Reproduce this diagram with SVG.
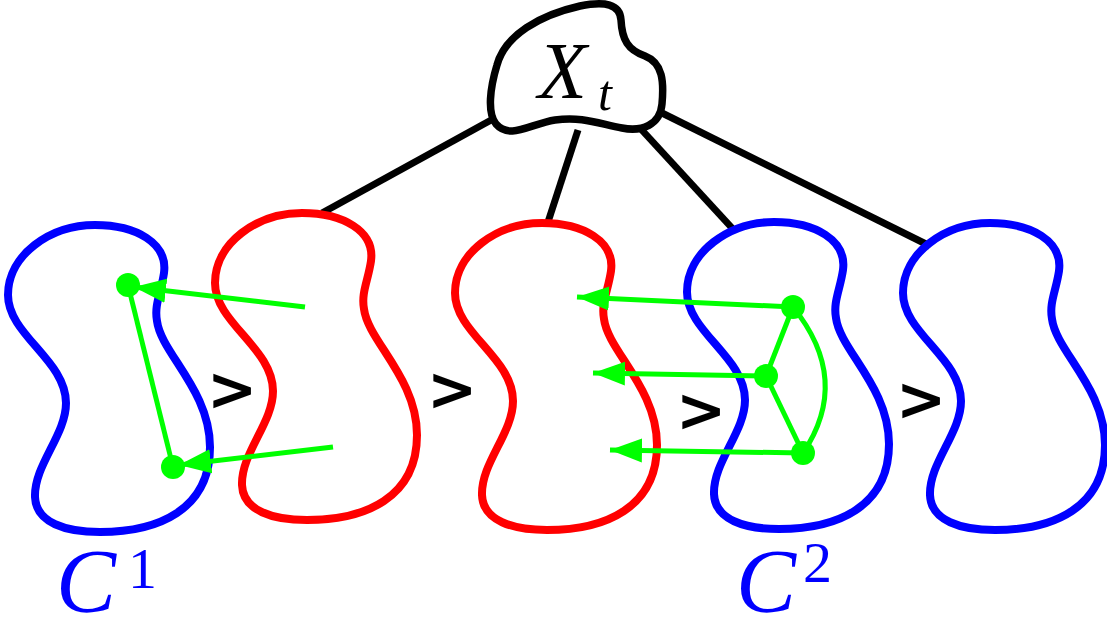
<svg xmlns="http://www.w3.org/2000/svg" xmlns:xlink="http://www.w3.org/1999/xlink" width="1107" height="632" viewBox="0 0 1107 632">
<style>
.blob{fill:none;stroke-width:8;stroke-linejoin:round}
.red{stroke:#ff0000}
.blue{stroke:#0000ff}
.conn{stroke:#000;stroke-width:7;fill:none}
.g{stroke:#00ff00;stroke-width:5;fill:none}
.dot{fill:#00ff00}
.gt{font-family:"DejaVu Sans",sans-serif;font-weight:bold;font-size:60px;fill:#000}
.math{font-family:"Liberation Serif","Times New Roman",serif;font-style:italic}
.lab{fill:#0000ff}
</style>
<defs>
<path id="blob" d="M 87,0 C 128,0 160,18 156,48 C 153,68 146,80 149,96 C 153,128 202,165 202,222 C 202,285 150,307 92,307 C 58,307 28,298 27,272 C 26,240 58,210 58,178 C 58,135 0,110 0,70 C 0,30 42,0 87,0 Z"/>
<marker id="ah" markerUnits="userSpaceOnUse" markerWidth="34" markerHeight="28" viewBox="0 0 34 28" refX="32" refY="14" orient="auto">
<path d="M0,2 L32,14 L0,26 Z" fill="#00ff00"/>
</marker>
</defs>
<g id="connectors">
<line class="conn" x1="493" y1="119" x2="322" y2="213"/>
<line class="conn" x1="578" y1="130" x2="548" y2="222"/>
<line class="conn" x1="640" y1="128" x2="732" y2="228"/>
<line class="conn" x1="660" y1="112" x2="930" y2="246"/>
</g>
<g id="Xt">
<path d="M 497,65 C 505,35 540,15 580,6 C 605,1 620,4 621,20 C 622,40 628,50 645,56 C 663,63 664,82 662,104 C 660,125 642,132 622,128 C 600,124 582,116 555,120 C 530,124 510,140 496,124 C 487,113 490,88 497,65 Z" fill="#fff" stroke="#000" stroke-width="7.5" stroke-linejoin="round"/>
<text class="math" x="538" y="98" font-size="80">X</text>
<text class="math" x="598" y="110" font-size="50">t</text>
</g>
<g id="blob1"><use xlink:href="#blob" class="blob blue" transform="translate(8,225)"/></g>
<g id="blob2"><use xlink:href="#blob" class="blob red" transform="translate(215,213)"/></g>
<g id="blob3"><use xlink:href="#blob" class="blob red" transform="translate(455,223)"/></g>
<g id="blob4"><use xlink:href="#blob" class="blob blue" transform="translate(687,222)"/></g>
<g id="blob5"><use xlink:href="#blob" class="blob blue" transform="translate(903,223)"/></g>
<g id="order">
<text class="gt" x="207" y="410">&gt;</text>
<text class="gt" x="427" y="410">&gt;</text>
<text class="gt" x="676" y="431">&gt;</text>
<text class="gt" x="896" y="420">&gt;</text>
</g>
<g id="green">
<line class="g" x1="128" y1="285" x2="173" y2="467"/>
<line class="g" x1="305" y1="307" x2="134" y2="287" marker-end="url(#ah)"/>
<line class="g" x1="333" y1="447" x2="179" y2="465" marker-end="url(#ah)"/>
<line class="g" x1="793" y1="307" x2="766" y2="376"/>
<line class="g" x1="766" y1="376" x2="803" y2="453"/>
<path class="g" d="M 793,307 Q 852,380 803,453"/>
<line class="g" x1="793" y1="307" x2="577" y2="297" marker-end="url(#ah)"/>
<line class="g" x1="766" y1="376" x2="593" y2="373" marker-end="url(#ah)"/>
<line class="g" x1="803" y1="453" x2="610" y2="450" marker-end="url(#ah)"/>
<circle class="dot" cx="128" cy="285" r="12"/>
<circle class="dot" cx="173" cy="467" r="12"/>
<circle class="dot" cx="793" cy="307" r="12"/>
<circle class="dot" cx="766" cy="376" r="12"/>
<circle class="dot" cx="803" cy="453" r="12"/>
</g>
<g id="labels">
<text class="math lab" x="56" y="612" font-size="90">C</text>
<text class="lab" x="128" y="588" font-size="58" font-family="Liberation Serif,serif">1</text>
<text class="math lab" x="736" y="612" font-size="90">C</text>
<text class="lab" x="803" y="582" font-size="58" font-family="Liberation Serif,serif">2</text>
</g>
</svg>
